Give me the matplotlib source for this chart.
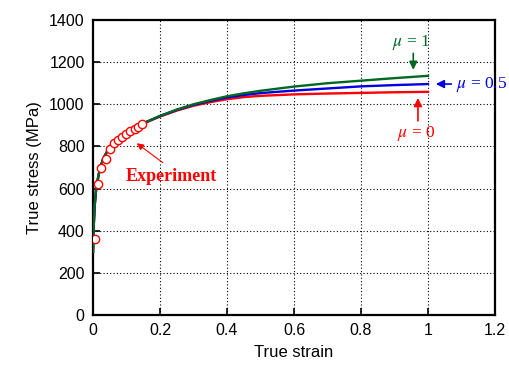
import matplotlib
matplotlib.use("Agg")
import matplotlib.pyplot as plt

# Data
exp_strain = [0.005, 0.016, 0.025, 0.040, 0.052, 0.064, 0.076, 0.087, 0.099, 0.111, 0.124, 0.134, 0.145]
exp_stress = [362, 620, 699, 742, 786, 815, 829, 843, 858, 872, 884, 894, 905]

sim_strain = [0, 0.002, 0.005, 0.01, 0.02, 0.03, 0.05, 0.075, 0.1, 0.15, 0.2, 0.25, 0.3, 0.35, 0.4, 0.45,
              0.5, 0.6, 0.7, 0.8, 0.9, 1.0]
stress_mu1 = [300, 420, 520, 610, 690, 740, 800, 840, 870, 910, 945, 975, 1000, 1020, 1038, 1052,
              1064, 1084, 1100, 1112, 1124, 1135]
stress_mu05 = [300, 420, 520, 610, 690, 740, 800, 840, 870, 910, 944, 973, 997, 1016, 1032, 1044,
               1053, 1065, 1075, 1085, 1091, 1096]
stress_mu0 = [300, 420, 520, 610, 690, 740, 800, 840, 870, 908, 942, 970, 993, 1010, 1024, 1034,
              1040, 1047, 1051, 1054, 1057, 1059]

xticks = [0, 0.2, 0.4, 0.6, 0.8, 1, 1.2]
xticklabels = ["0", "0.2", "0.4", "0.6", "0.8", "1", "1.2"]
yticks = [0, 200, 400, 600, 800, 1000, 1200, 1400]

RED = "#ff0000"
BLUE = "#0000e0"
GREEN = "#006820"

fig = plt.figure(figsize=(5.10, 3.68), dpi=100)
ax = fig.add_axes([0.1824, 0.144, 0.7882, 0.8017])

ax.plot(sim_strain, stress_mu0, color=RED, lw=1.7, zorder=3)
ax.plot(sim_strain, stress_mu05, color=BLUE, lw=1.7, zorder=4)
ax.plot(sim_strain, stress_mu1, color=GREEN, lw=1.7, zorder=5)
ax.plot(exp_strain, exp_stress, linestyle="none", marker="o", markersize=6,
        markerfacecolor="white", markeredgecolor=RED, markeredgewidth=1.0, zorder=6)

ax.set_xlim(0, 1.2)
ax.set_ylim(0, 1400)
ax.set_xticks(xticks)
ax.set_xticklabels(xticklabels)
ax.set_yticks(yticks)
ax.grid(True, color="black", linestyle=(0, (1, 2)), linewidth=0.8)
ax.tick_params(direction="in", length=5, width=1.2, labelsize=11.5, pad=6)
for lab in ax.get_xticklabels() + ax.get_yticklabels():
    lab.set_fontfamily("Liberation Sans")
for s in ax.spines.values():
    s.set_linewidth(1.6)

ax.set_xlabel("True strain", fontsize=12, family="Liberation Sans", labelpad=5)
ax.set_ylabel("True stress (MPa)", fontsize=12, family="Liberation Sans", labelpad=5)

serif = "Liberation Serif"
# Annotations
ax.annotate("", xy=(0.956, 1150), xytext=(0.956, 1255),
            arrowprops=dict(arrowstyle="-|>", color=GREEN, lw=1.2, mutation_scale=12), zorder=7)
ax.text(0.95, 1295, r"$\mu$ = 1", color=GREEN, fontsize=12.5, family=serif, ha="center", va="center",
        math_fontfamily="stix")
ax.annotate("", xy=(1.015, 1096), xytext=(1.078, 1096),
            arrowprops=dict(arrowstyle="-|>", color=BLUE, lw=1.2, mutation_scale=12),
            annotation_clip=False, zorder=7)
ax.text(1.083, 1096, r"$\mu$ = 0.5", color=BLUE, fontsize=12.5, family=serif, ha="left", va="center",
        math_fontfamily="stix", clip_on=False)
ax.annotate("", xy=(0.97, 1043), xytext=(0.97, 908),
            arrowprops=dict(arrowstyle="-|>", color=RED, lw=1.2, mutation_scale=12), zorder=7)
ax.text(0.964, 862, r"$\mu$ = 0", color=RED, fontsize=12.5, family=serif, ha="center", va="center",
        math_fontfamily="stix")

ax.annotate("", xy=(0.124, 823), xytext=(0.215, 715),
            arrowprops=dict(arrowstyle="-|>", color=RED, lw=0.8, mutation_scale=10), zorder=7)
ax.text(0.235, 655, "Experiment", color=RED, fontsize=13, family=serif, fontweight="bold",
        ha="center", va="center")

fig.savefig("out.png", dpi=100)
